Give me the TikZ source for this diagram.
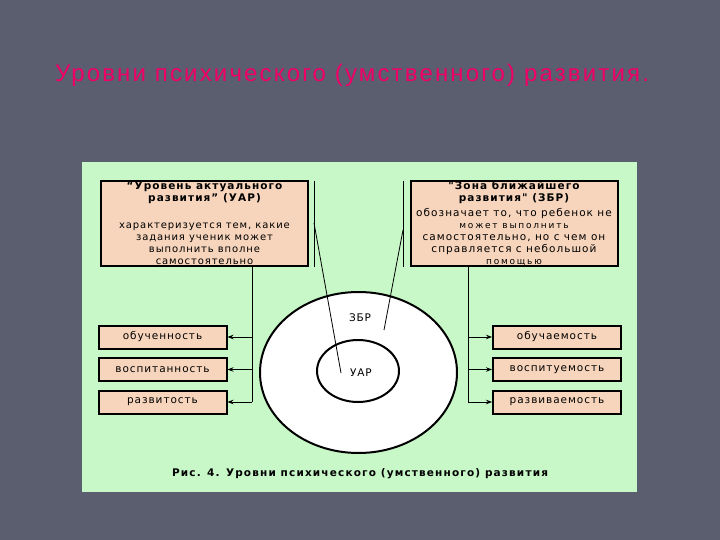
\documentclass[tikz,border=0pt]{standalone}
\usepackage{fontspec}
\setmainfont{DejaVu Sans}[Ligatures=TeXOff]
\newfontfamily\titlefont{Liberation Sans}[LetterSpace=9]
\usetikzlibrary{arrows.meta,shapes.geometric}

\definecolor{slidebg}{HTML}{5B5E6E}
\definecolor{panelgreen}{HTML}{C8F7C8}
\definecolor{peach}{HTML}{F7D5BC}
\definecolor{titlepink}{HTML}{F00066}

\newcommand\hdfont{\bfseries\fontsize{10.5}{10.8}\selectfont\addfontfeature{LetterSpace=10}}
\newcommand\bdfont{\fontsize{10}{10.3}\selectfont\addfontfeature{LetterSpace=9}}
\newcommand\rbfont{\fontsize{10.5}{10.3}\selectfont\addfontfeature{LetterSpace=10}}
\newcommand\smfont{\fontsize{9}{10.3}\selectfont\addfontfeature{LetterSpace=20}}

\begin{document}
\begin{tikzpicture}[x=1pt, y=-1pt, line width=0.8pt,
  bigbox/.style={draw, line width=2pt, fill=peach, minimum width=207pt,
    minimum height=85pt, align=center, inner sep=0pt},
  smallbox/.style={draw, line width=2pt, fill=peach, minimum width=128pt,
    minimum height=23pt, inner sep=0pt,
    font=\fontsize{10.5}{12}\selectfont\addfontfeature{LetterSpace=9}},
  arr/.style={-{Stealth[length=6pt,width=4.5pt]}}]

% slide and panel
\fill[slidebg] (0,0) rectangle (720,540);
\fill[panelgreen] (82,162) rectangle (637,492);
\node[font=\titlefont\fontsize{24}{28}\selectfont, text=titlepink, anchor=base]
  (title) at (352,82) {Уровни психического (умственного) развития.};

% the two definition boxes
\node[bigbox] (uar) at (204.5,223.5) {\hdfont “Уровень актуального\\
  \hdfont развития” (УАР)\\[15pt]
  \bdfont характеризуется тем, какие\\ \bdfont задания ученик может\\
  \bdfont выполнить вполне\\ \bdfont самостоятельно};
\node[bigbox] (zbr) at (514,223.5) {\hdfont "Зона ближайшего\\
  \hdfont развития" (ЗБР)\\[3pt]
  \rbfont обозначает то, что ребенок не\\ \smfont может выполнить\\
  \rbfont самостоятельно, но с чем он\\ \rbfont справляется с небольшой\\
  \smfont помощью};

% the zones
\node[ellipse, draw, line width=2pt, fill=white, minimum width=197pt,
  minimum height=161pt, inner sep=0pt] (outer) at (358.5,372.5) {};
\node[ellipse, draw, line width=2pt, fill=white, minimum width=82pt,
  minimum height=62pt, inner sep=0pt] (inner) at (358,371) {};
\node[font=\fontsize{10.5}{11}\selectfont\addfontfeature{LetterSpace=8}]
  (zbrlbl) at (360,318) {ЗБР};
\node[font=\fontsize{10.5}{11}\selectfont\addfontfeature{LetterSpace=8}]
  (uarlbl) at (361,373) {УАР};

% bars beside the boxes and the pointers into the zones
\coordinate (lb1) at (314,181);
\coordinate (lb2) at (314,267);
\coordinate (lp) at (314,223);
\coordinate (lpend) at (341,373);
\coordinate (rb1) at (403,181);
\coordinate (rb2) at (403,267);
\coordinate (rp) at (403,230);
\coordinate (rpend) at (384,330);
\draw (lb1) -- (lb2);
\draw (rb1) -- (rb2);
\draw (lp) -- (lpend);
\draw (rp) -- (rpend);

% small boxes
\foreach \i/\t in {1/обученность, 2/воспитанность, 3/развитость} {
    \node[smallbox] (l\i) at (162.5, 304.5+32.5*\i) {\t};
}
\foreach \i/\t in {1/обучаемость, 2/воспитуемость, 3/развиваемость} {
    \node[smallbox] (r\i) at (557, 304.5+32.5*\i) {\t};
}

% branches from the boxes
\coordinate (lt) at (252,266);
\coordinate (rt) at (468,266);
\draw (lt) -- (lt |- l3.east);
\draw (rt) -- (rt |- r3.west);
\foreach \i in {1,2,3} {
    \draw[arr] (lt |- l\i.east) -- (l\i.east);
    \draw[arr] (rt |- r\i.west) -- (r\i.west);
}

\node[font=\bfseries\fontsize{10.5}{12}\selectfont\addfontfeature{LetterSpace=11}]
  (caption) at (360,474) {Рис. 4. Уровни психического (умственного) развития};
\end{tikzpicture}
\end{document}
